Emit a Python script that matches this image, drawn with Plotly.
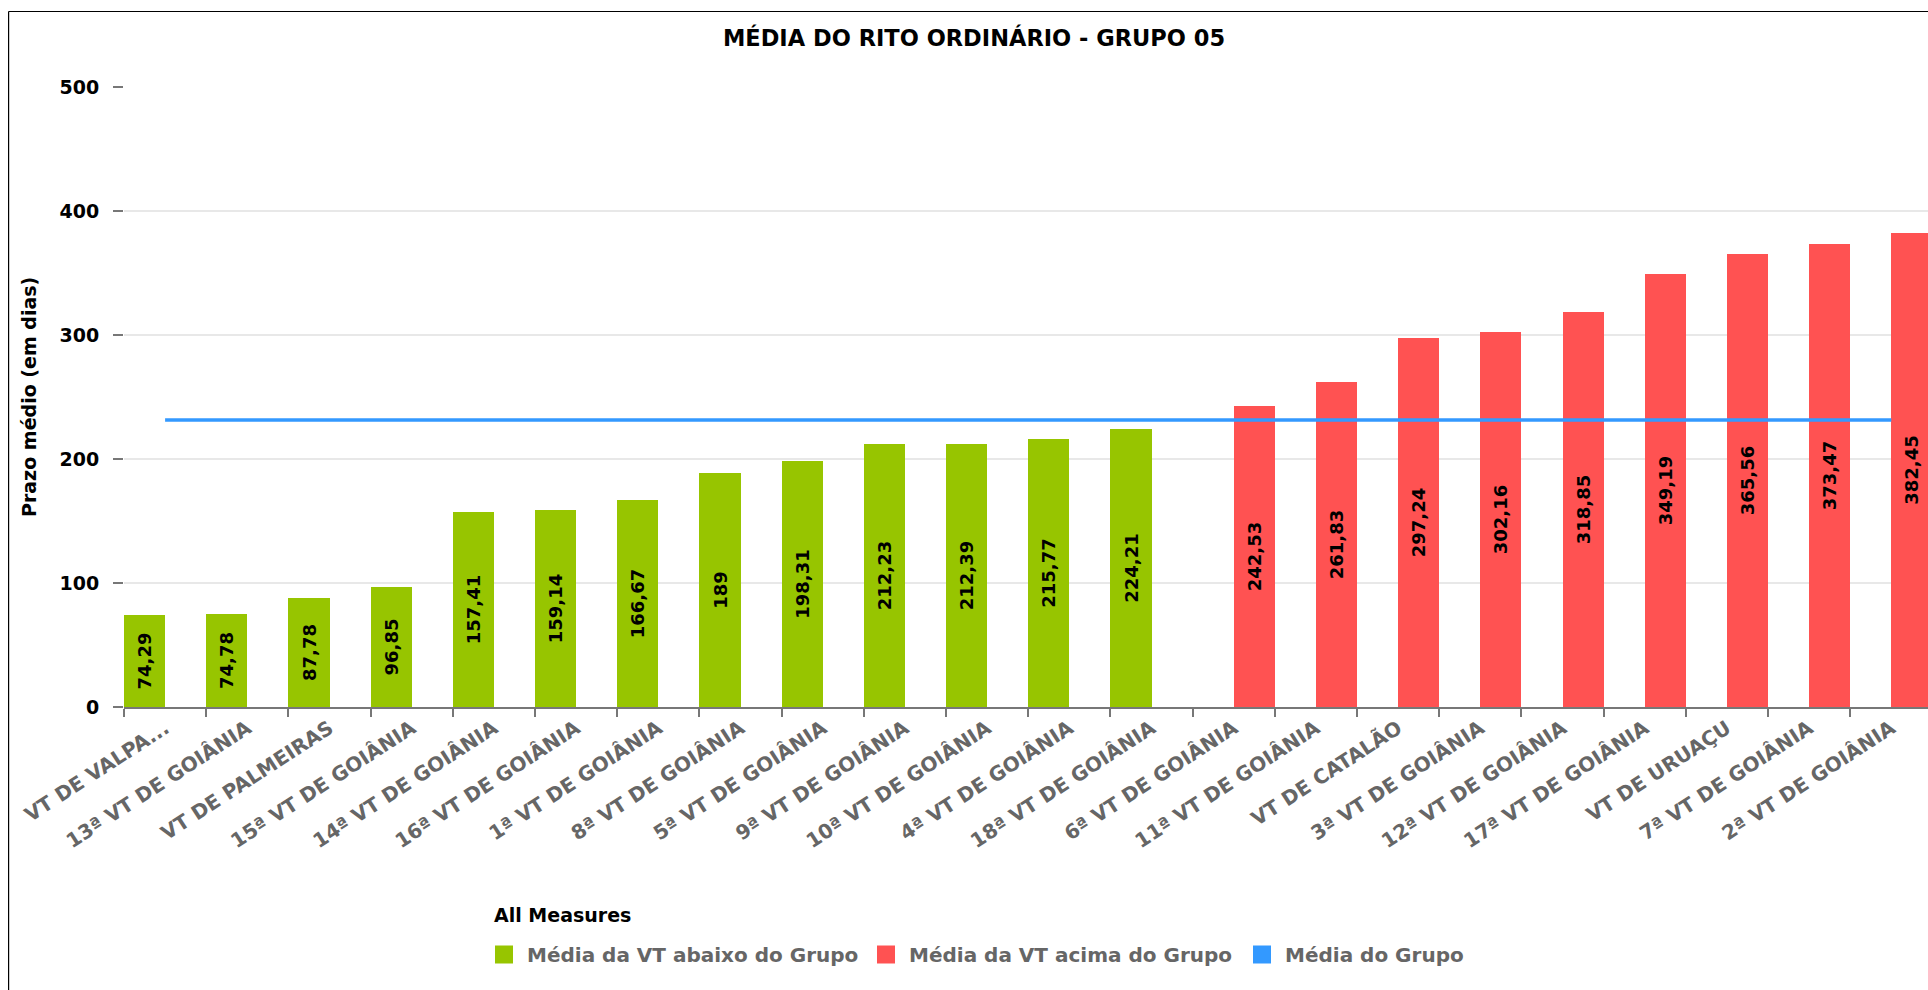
import plotly.graph_objects as go

# ---------------- data ----------------
categorias = [
    "VT DE VALPA...", "13ª VT DE GOIÂNIA", "VT DE PALMEIRAS", "15ª VT DE GOIÂNIA",
    "14ª VT DE GOIÂNIA", "16ª VT DE GOIÂNIA", "1ª VT DE GOIÂNIA", "8ª VT DE GOIÂNIA",
    "5ª VT DE GOIÂNIA", "9ª VT DE GOIÂNIA", "10ª VT DE GOIÂNIA", "4ª VT DE GOIÂNIA",
    "18ª VT DE GOIÂNIA", "6ª VT DE GOIÂNIA", "11ª VT DE GOIÂNIA", "VT DE CATALÃO",
    "3ª VT DE GOIÂNIA", "12ª VT DE GOIÂNIA", "17ª VT DE GOIÂNIA", "VT DE URUAÇU",
    "7ª VT DE GOIÂNIA", "2ª VT DE GOIÂNIA",
]
abaixo = [74.29, 74.78, 87.78, 96.85, 157.41, 159.14, 166.67, 189, 198.31, 212.23,
          212.39, 215.77, 224.21, None, None, None, None, None, None, None, None, None]
acima = [None, None, None, None, None, None, None, None, None, None, None, None, None,
         242.53, 261.83, 297.24, 302.16, 318.85, 349.19, 365.56, 373.47, 382.45]
MEDIA_GRUPO = 231.4
media_grupo = [MEDIA_GRUPO] * len(categorias)
y_ticks = [0, 100, 200, 300, 400, 500]

series_nomes = ["Média da VT abaixo do Grupo", "Média da VT acima do Grupo", "Média do Grupo"]
series_cores = ["#97C500", "#FF5252", "#3399FF"]

TITULO = "MÉDIA DO RITO ORDINÁRIO - GRUPO 05"
Y_TITULO = "Prazo médio (em dias)"
LEGENDA_TITULO = "All Measures"


def fmt(v):
    if v is None:
        return ""
    if float(v).is_integer():
        return str(int(v))
    return f"{v:.2f}".replace(".", ",")


# ---------------- layout geometry (pixels) ----------------
W, H = 1928, 990
ML, MT, MB, MR = 124, 87, 283, 0
PW, PH = W - ML - MR, H - MT - MB
FONT = "DejaVu Sans"


def px_x(x):
    return (x - ML) / PW


def px_y(y):
    return (MT + PH - y) / PH


fig = go.Figure()
fig.add_trace(go.Bar(
    x=categorias, y=abaixo, name=series_nomes[0], marker_color=series_cores[0],
    marker_line_width=0,
    text=[fmt(v) for v in abaixo], textposition="inside", insidetextanchor="middle",
    textangle=-90, textfont=dict(family=FONT, size=18, color="black", weight="bold"),
    showlegend=False,
))
fig.add_trace(go.Bar(
    x=categorias, y=acima, name=series_nomes[1], marker_color=series_cores[1],
    marker_line_width=0,
    text=[fmt(v) for v in acima], textposition="inside", insidetextanchor="middle",
    textangle=-90, textfont=dict(family=FONT, size=18, color="black", weight="bold"),
    showlegend=False,
))
fig.add_trace(go.Scatter(
    x=categorias, y=media_grupo, name=series_nomes[2], mode="lines",
    line=dict(color=series_cores[2], width=3.5), showlegend=False,
))

shapes = []
annotations = []

# frame (left and top edges only; the rest lies outside the visible page)
shapes.append(dict(type="line", xref="paper", yref="paper",
                   x0=px_x(8.6), x1=px_x(8.6), y0=px_y(11.5), y1=px_y(H + 5),
                   line=dict(color="black", width=1.2)))
shapes.append(dict(type="line", xref="paper", yref="paper",
                   x0=px_x(8.6), x1=px_x(W + 5), y0=px_y(11.5), y1=px_y(11.5),
                   line=dict(color="black", width=1.2)))

# y-axis title
annotations.append(dict(text=Y_TITULO, xref="paper", yref="paper", x=px_x(29), y=0.5,
                        textangle=-90, showarrow=False, xanchor="center", yanchor="middle",
                        font=dict(family=FONT, size=19, color="black", weight="bold")))

# manual legend
annotations.append(dict(text=LEGENDA_TITULO, xref="paper", yref="paper",
                        x=px_x(492), y=px_y(915), showarrow=False,
                        xanchor="left", yanchor="middle",
                        font=dict(family=FONT, size=19, color="black", weight="bold")))
leg_sq_x = [495, 877, 1253]
leg_cy = 954.5
for nome, cor, sx in zip(series_nomes, series_cores, leg_sq_x):
    shapes.append(dict(type="rect", xref="paper", yref="paper",
                       x0=px_x(sx), x1=px_x(sx + 18), y0=px_y(leg_cy + 9), y1=px_y(leg_cy - 9),
                       line=dict(width=0), fillcolor=cor))
    annotations.append(dict(text=nome, xref="paper", yref="paper",
                            x=px_x(sx + 30), y=px_y(leg_cy), showarrow=False,
                            xanchor="left", yanchor="middle",
                            font=dict(family=FONT, size=20, color="#666666", weight="bold")))

fig.update_layout(
    width=W, height=H,
    margin=dict(l=ML, r=MR, t=MT, b=MB, pad=0),
    paper_bgcolor="white", plot_bgcolor="white",
    barmode="group", bargap=0, bargroupgap=0,
    showlegend=False,
    title=dict(text=TITULO, x=974 / W, xanchor="center", y=1 - 38 / H, yanchor="middle",
               font=dict(family=FONT, size=22.5, color="black", weight="bold")),
    font=dict(family=FONT),
    shapes=shapes, annotations=annotations,
    xaxis=dict(
        type="category", range=[-0.5, -0.5 + PW / 82.2],
        tickson="boundaries", ticks="outside", ticklen=8, tickwidth=2, tickcolor="#777777",
        showline=True, linecolor="#777777", linewidth=2, showgrid=False,
        tickangle=-33,
        tickfont=dict(family=FONT, size=20, color="#666666", weight="bold"),
    ),
    yaxis=dict(
        range=[0, 500], tickvals=y_ticks, ticks="outside", ticklen=10, tickwidth=2,
        tickcolor="#777777", showline=False, showgrid=True, gridcolor="#e8e8e8", gridwidth=1.5,
        zeroline=False, ticklabelstandoff=10,
        tickfont=dict(family=FONT, size=19, color="black", weight="bold"),
    ),
)

fig.write_html(
    "out.html",
    config={"displayModeBar": False},
    post_script="document.body.style.margin='0';document.documentElement.style.overflow='hidden';",
)
